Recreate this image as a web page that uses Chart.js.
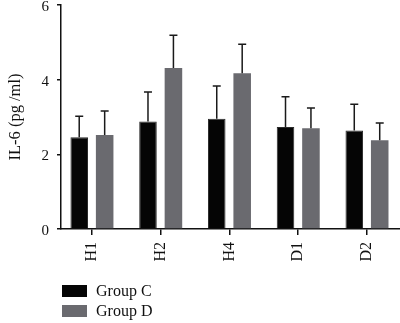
<!DOCTYPE html>
<html>
<head>
<meta charset="utf-8">
<script src="https://cdn.jsdelivr.net/npm/chart.js@4.4.1/dist/chart.umd.min.js"></script>
<style>
  html, body { margin: 0; padding: 0; background: #fff; }
  #wrap { width: 400px; height: 323px; }
</style>
</head>
<body>
<div id="wrap"><canvas id="c" width="400" height="323"></canvas></div>
<script>
const categories = ['H1', 'H2', 'H4', 'D1', 'D2'];
const groupCMean = [2.46, 2.88, 2.95, 2.73, 2.64];
const groupCSD   = [0.56, 0.79, 0.88, 0.81, 0.70];
const groupDMean = [2.52, 4.31, 4.17, 2.70, 2.38];
const groupDSD   = [0.64, 0.88, 0.78, 0.54, 0.46];
const yTicks = [0, 2, 4, 6];
const seriesNames = ['Group C', 'Group D'];

const SERIF = '"Liberation Serif", "DejaVu Serif", serif';

const errorBars = {
  id: 'errorBars',
  afterDatasetsDraw(chart) {
    const ctx = chart.ctx;
    const y = chart.scales.y;
    chart.data.datasets.forEach((ds, di) => {
      const meta = chart.getDatasetMeta(di);
      meta.data.forEach((bar, i) => {
        const top = y.getPixelForValue(ds.data[i].y + ds.sd[i]);
        ctx.save();
        ctx.strokeStyle = '#1a1a1a';
        ctx.lineWidth = 1.5;
        ctx.beginPath();
        ctx.moveTo(bar.x, bar.y);
        ctx.lineTo(bar.x, top);
        ctx.moveTo(bar.x - 4, top);
        ctx.lineTo(bar.x + 4, top);
        ctx.stroke();
        ctx.restore();
      });
    });
  }
};

const bottomLegend = {
  id: 'bottomLegend',
  afterDraw(chart) {
    const ctx = chart.ctx;
    ctx.save();
    ctx.font = '16px ' + SERIF;
    ctx.textBaseline = 'middle';
    chart.data.datasets.forEach((ds, i) => {
      const cy = 291 + i * 20;
      ctx.fillStyle = ds.backgroundColor;
      ctx.fillRect(62, cy - 6, 25, 12);
      ctx.fillStyle = '#111';
      ctx.textAlign = 'left';
      ctx.fillText(ds.label, 96, cy + 1);
    });
    ctx.restore();
  }
};

const toPts = arr => arr.map((v, i) => ({ x: i, y: v }));

new Chart(document.getElementById('c'), {
  type: 'bar',
  data: {
    datasets: [
      { label: seriesNames[0], data: toPts(groupCMean), sd: groupCSD, backgroundColor: '#050505', borderColor: '#2a2a2a', borderWidth: 1 },
      { label: seriesNames[1], data: toPts(groupDMean), sd: groupDSD, backgroundColor: '#6a6a6f', borderWidth: 0 }
    ]
  },
  options: {
    responsive: false,
    animation: false,
    categoryPercentage: 0.74,
    barPercentage: 0.69,
    layout: { padding: { top: 5, right: 0, left: 0, bottom: 0 } },
    plugins: {
      legend: { display: false },
      tooltip: { enabled: false }
    },
    scales: {
      x: {
        type: 'linear',
        min: -0.45,
        max: 4.48,
        offset: false,
        afterBuildTicks(scale) {
          scale.ticks = categories.map((_, i) => ({ value: i }));
        },
        afterFit(scale) {
          scale.height = 94;
          scale.paddingLeft = 0;
          scale.paddingRight = 0;
        },
        grid: { display: true, offset: false, drawOnChartArea: false, drawTicks: true, tickLength: 6, color: '#111', lineWidth: 1.5 },
        border: { display: true, color: '#111', width: 1.5 },
        ticks: {
          autoSkip: false,
          minRotation: 90,
          maxRotation: 90,
          padding: 7,
          color: '#111',
          font: { family: SERIF, size: 16 },
          callback: (v) => categories[v] ?? ''
        }
      },
      y: {
        min: 0,
        max: 6,
        afterBuildTicks(scale) {
          scale.ticks = yTicks.map(v => ({ value: v }));
        },
        afterFit(scale) {
          scale.width = 61;
          scale.paddingTop = 0;
          scale.paddingBottom = 0;
        },
        grid: { display: true, drawOnChartArea: false, drawTicks: true, tickLength: 4, color: '#111', lineWidth: 1.5 },
        border: { display: true, color: '#111', width: 1.5 },
        ticks: {
          padding: 8,
          labelOffset: 2,
          color: '#111',
          font: { family: SERIF, size: 15 }
        },
        title: {
          display: true,
          text: 'IL-6 (pg /ml)',
          color: '#111',
          font: { family: SERIF, size: 16.5 },
          padding: { top: 6, bottom: 0 }
        }
      }
    }
  },
  plugins: [errorBars, bottomLegend]
});
</script>
</body>
</html>
